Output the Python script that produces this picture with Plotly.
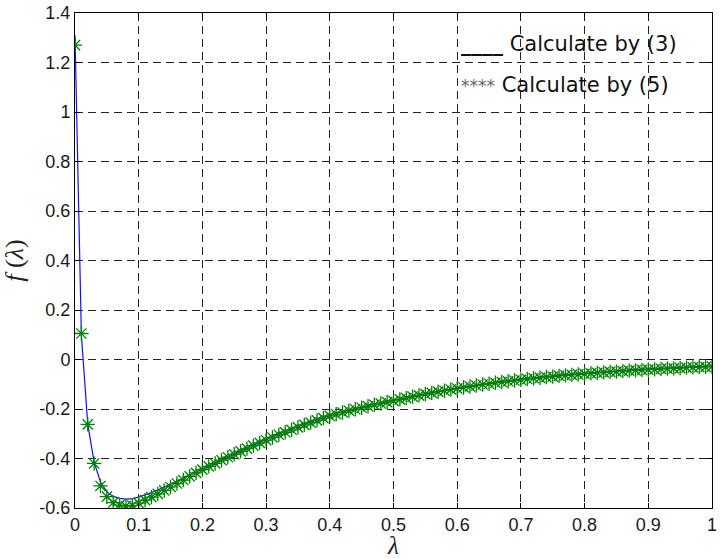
import plotly.graph_objects as go

# lambda sampling (step 0.01)
lam = [round(i * 0.01, 2) for i in range(101)]

# f(lambda) calculated by (3) - solid blue curve
f_eq3 = [
    1.310, 0.100, -0.260, -0.415, -0.495, -0.535, -0.553, -0.561, -0.564, -0.562,
    -0.556, -0.548, -0.538, -0.527, -0.515, -0.503, -0.491, -0.478, -0.465, -0.452,
    -0.440, -0.428, -0.416, -0.404, -0.392, -0.380, -0.368, -0.357, -0.345, -0.334,
    -0.323, -0.312, -0.301, -0.291, -0.281, -0.271, -0.261, -0.252, -0.243, -0.234,
    -0.225, -0.218, -0.211, -0.204, -0.198, -0.192, -0.186, -0.180, -0.175, -0.169,
    -0.164, -0.158, -0.153, -0.147, -0.142, -0.137, -0.132, -0.127, -0.123, -0.118,
    -0.114, -0.110, -0.106, -0.102, -0.098, -0.095, -0.091, -0.088, -0.085, -0.082,
    -0.079, -0.076, -0.073, -0.071, -0.068, -0.066, -0.063, -0.061, -0.059, -0.057,
    -0.055, -0.053, -0.051, -0.049, -0.047, -0.046, -0.044, -0.042, -0.041, -0.039,
    -0.038, -0.037, -0.035, -0.034, -0.033, -0.032, -0.030, -0.029, -0.028, -0.027,
    -0.026,
]

# f(lambda) calculated by (5) - green asterisks
f_eq5 = [
    1.270, 0.105, -0.262, -0.420, -0.511, -0.554, -0.578, -0.588, -0.592, -0.590,
    -0.580, -0.568, -0.556, -0.543, -0.529, -0.515, -0.501, -0.487, -0.472, -0.458,
    -0.445, -0.432, -0.420, -0.407, -0.395, -0.383, -0.371, -0.360, -0.348, -0.337,
    -0.326, -0.315, -0.304, -0.294, -0.284, -0.274, -0.264, -0.255, -0.246, -0.237,
    -0.228, -0.221, -0.214, -0.207, -0.201, -0.195, -0.189, -0.183, -0.178, -0.172,
    -0.167, -0.161, -0.156, -0.150, -0.145, -0.140, -0.135, -0.130, -0.126, -0.121,
    -0.117, -0.113, -0.109, -0.105, -0.101, -0.098, -0.094, -0.091, -0.088, -0.085,
    -0.082, -0.079, -0.076, -0.074, -0.071, -0.069, -0.066, -0.064, -0.062, -0.060,
    -0.058, -0.056, -0.054, -0.052, -0.050, -0.049, -0.047, -0.045, -0.044, -0.042,
    -0.041, -0.040, -0.038, -0.037, -0.036, -0.035, -0.033, -0.032, -0.031, -0.030,
    -0.029,
]

x_ticks = [0, 0.1, 0.2, 0.3, 0.4, 0.5, 0.6, 0.7, 0.8, 0.9, 1]
x_ticktext = ["0", "0.1", "0.2", "0.3", "0.4", "0.5", "0.6", "0.7", "0.8", "0.9", "1"]
y_ticks = [-0.6, -0.4, -0.2, 0, 0.2, 0.4, 0.6, 0.8, 1, 1.2, 1.4]
y_ticktext = ["-0.6", "-0.4", "-0.2", "0", "0.2", "0.4", "0.6", "0.8", "1", "1.2", "1.4"]

fig = go.Figure()
fig.add_trace(go.Scatter(
    x=lam, y=f_eq3, mode="lines",
    line=dict(color="#1010ff", width=1.2),
    name="Calculate by (3)",
))
fig.add_trace(go.Scatter(
    x=lam, y=f_eq5, mode="markers",
    marker=dict(symbol="asterisk-open", size=12, color="#008000",
                line=dict(color="#008000", width=1.3)),
    name="Calculate by (5)",
))

tick_font = dict(family="Liberation Sans, Arial, sans-serif", size=18, color="#1a1a1a")
axis_common = dict(
    showline=True, linecolor="black", linewidth=1, mirror="ticks",
    ticks="inside", ticklen=5, tickcolor="black",
    showgrid=True, gridcolor="#222222", gridwidth=1, griddash="8px,5px",
    zeroline=False, tickfont=tick_font, ticklabeloverflow="allow",
)

fig.update_xaxes(range=[0, 1], tickvals=x_ticks, ticktext=x_ticktext,
                 title=dict(text="<i>λ</i>", standoff=0,
                            font=dict(family="Liberation Serif, serif", size=25, color="#222222")),
                 **axis_common)
fig.update_yaxes(range=[-0.6, 1.4], tickvals=y_ticks, ticktext=y_ticktext,
                 title=dict(text="<i>f</i> (<i>λ</i>)", standoff=8,
                            font=dict(family="Liberation Serif, serif", size=26, color="#222222")),
                 **axis_common)

legend_font = dict(family="DejaVu Sans, sans-serif", size=21, color="#111111")
fig.add_annotation(
    xref="paper", yref="paper", x=0.603, y=0.937, xanchor="left", yanchor="middle",
    text="<b>____</b> Calculate by (3)", showarrow=False, font=legend_font,
)
fig.add_annotation(
    xref="paper", yref="paper", x=0.603, y=0.855, xanchor="left", yanchor="middle",
    text="<span style='color:#666666;font-size:17px'>****</span> Calculate by (5)",
    showarrow=False, font=legend_font,
)

fig.update_layout(
    width=720, height=559,
    margin=dict(l=75, r=3, t=13, b=51),
    paper_bgcolor="white", plot_bgcolor="white",
    showlegend=False,
)

fig.write_html("out.html")
